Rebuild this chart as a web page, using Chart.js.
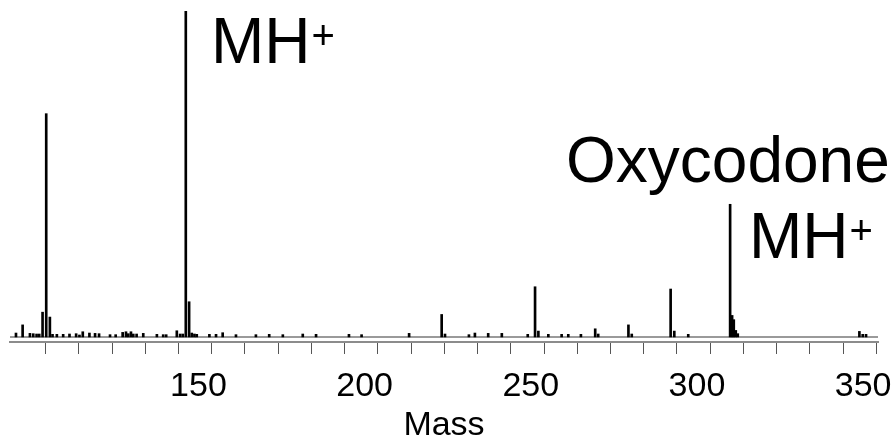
<!DOCTYPE html>
<html>
<head>
<meta charset="utf-8">
<script src="https://cdn.jsdelivr.net/npm/chart.js@4.4.0/dist/chart.umd.min.js"></script>
<style>
  body { margin: 0; background: #fff; }
  #wrap { width: 893px; height: 439px; }
</style>
</head>
<body>
<div id="wrap"><canvas id="js--spectrum"></canvas></div>
<script>
// peak list (mass, relative intensity %)
const peakMass = [101.1, 103.1, 105.3, 106.3, 107.3, 108.1, 109.1, 110.2, 111.3, 112.1,
    113.4, 115.3, 117.2, 119.2, 120.2, 121.2, 123.2, 124.9, 126.1, 129.4,
    131.1, 133.2, 134.2, 134.9, 135.7, 136.4, 137.4, 139.4, 143.5, 145.4,
    146.3, 149.5, 150.5, 151.3, 152.2, 153.2, 154.0, 154.8, 155.5, 159.3,
    161.3, 163.3, 167.3, 173.3, 177.3, 181.4, 187.4, 191.4, 201.3, 205.1,
    219.4, 229.2, 230.2, 237.4, 239.2, 243.2, 247.3, 255.1, 257.3, 258.3,
    261.3, 265.3, 267.3, 271.1, 275.4, 276.3, 285.4, 286.4, 298.1, 299.2,
    303.4, 316.0, 316.6, 317.1, 317.7, 318.3, 354.9, 355.9, 356.9];
const peakIntensity = [1.2, 3.7, 1.1, 1.0, 0.9, 0.9, 7.6, 68.5, 6.1, 0.8,
    0.8, 0.8, 0.9, 1.0, 0.6, 1.6, 1.2, 1.1, 1.0, 0.7,
    0.7, 1.4, 1.6, 1.0, 1.6, 0.9, 0.9, 1.1, 0.8, 0.7,
    0.7, 1.9, 0.9, 0.9, 100, 10.8, 1.2, 0.9, 0.8, 0.8,
    0.8, 1.3, 0.7, 0.7, 0.8, 0.7, 0.9, 0.8, 0.8, 0.7,
    1.1, 6.9, 0.9, 0.7, 1.2, 1.1, 1.1, 0.8, 15.4, 1.8,
    0.8, 0.8, 0.8, 0.8, 2.5, 0.9, 3.7, 0.9, 14.7, 1.8,
    0.8, 40.7, 6.6, 5.3, 2.0, 1.0, 1.7, 0.8, 0.8];

const massRange = [99.3, 360.5];
const tickValues = [110, 120, 130, 140, 150, 160, 170, 180, 190, 200, 210, 220, 230,
    240, 250, 260, 270, 280, 290, 300, 310, 320, 330, 340, 350, 360];
const labelledTicks = [150, 200, 250, 300, 350];

const fontFamily = "'Liberation Sans', Arial, sans-serif";

// annotation text on top of the peaks
const peakLabels = {
    id: "peakLabels",
    afterDraw(chart) {
        const ctx = chart.ctx;
        ctx.save();
        ctx.fillStyle = "#000";
        ctx.textBaseline = "alphabetic";
        ctx.textAlign = "left";
        const drawMH = (x, y) => {
            ctx.font = "64px " + fontFamily;
            ctx.fillText("MH", x, y);
            const w = ctx.measureText("MH").width;
            ctx.font = "40px " + fontFamily;
            ctx.fillText("+", x + w + 1, y - 14);
        };
        drawMH(211, 63);
        ctx.font = "64px " + fontFamily;
        ctx.fillText("Oxycodone", 566, 182);
        drawMH(749, 258);
        ctx.restore();
    }
};

const peaks = peakMass.map((m, i) => ({ x: m, y: peakIntensity[i] }));

const config = {
    type: "bar",
    data: {
        datasets: [{
            type: "bar",
            data: peaks,
            backgroundColor: "#000",
            barThickness: 2,
            order: 0
        }, {
            type: "line",
            data: [{ x: massRange[0], y: 0 }, { x: massRange[1], y: 0 }],
            borderColor: "#9a9a9a",
            borderWidth: 2,
            pointRadius: 0,
            order: 1
        }]
    },
    options: {
        responsive: true,
        maintainAspectRatio: false,
        animation: false,
        layout: { padding: { left: 10, right: 15, top: 11, bottom: 0 } },
        plugins: {
            legend: { display: false },
            tooltip: { enabled: false }
        },
        scales: {
            x: {
                type: "linear",
                min: massRange[0],
                max: massRange[1],
                offset: false,
                afterBuildTicks: (scale) => {
                    scale.ticks = tickValues.map(v => ({ value: v }));
                },
                border: { display: true, color: "#8c8c8c", width: 2 },
                grid: {
                    offset: false,
                    drawOnChartArea: false,
                    drawTicks: true,
                    tickLength: 12,
                    tickColor: "#555",
                    tickWidth: 1
                },
                ticks: {
                    autoSkip: false,
                    maxRotation: 0,
                    padding: 15,
                    labelOffset: 20,
                    color: "#000",
                    font: { family: fontFamily, size: 34, lineHeight: 1.059 },
                    callback: (v) => labelledTicks.includes(v) ? String(v) : ""
                },
                title: {
                    display: true,
                    text: "Mass",
                    color: "#000",
                    font: { family: fontFamily, size: 34, lineHeight: 0.794 },
                    padding: { top: -8, bottom: 0 }
                }
            },
            y: {
                display: false,
                min: -1.55,
                max: 100
            }
        }
    },
    plugins: [peakLabels]
};

const spectrumChart = new Chart(document.getElementById("js--spectrum"), config);
</script>
</body>
</html>
